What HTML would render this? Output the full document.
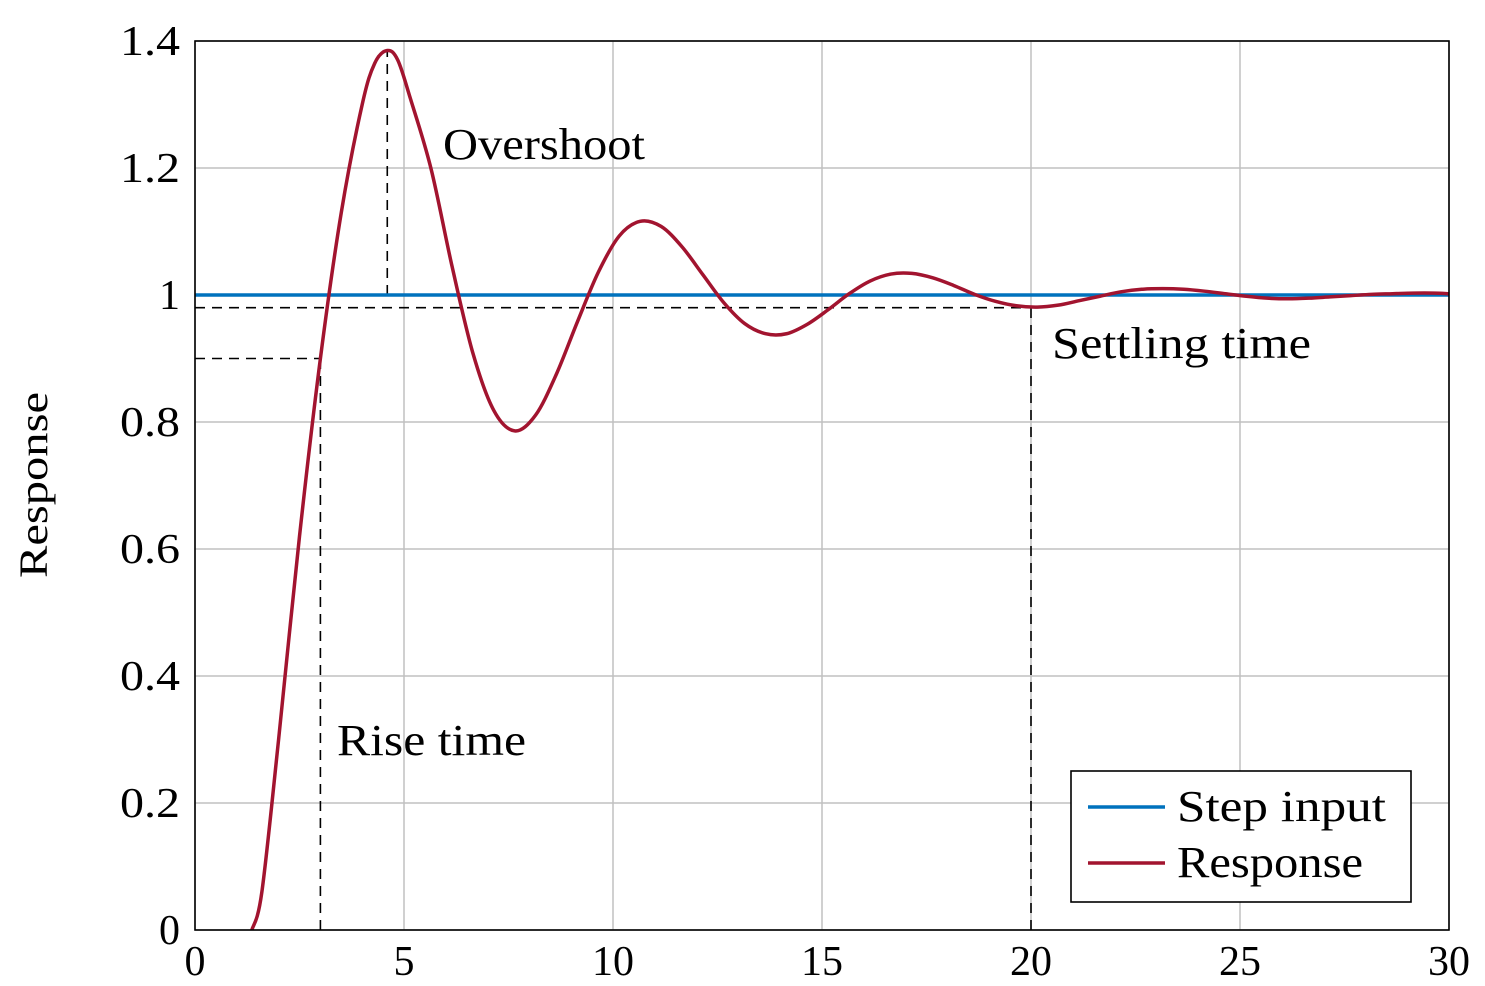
<!DOCTYPE html>
<html><head><meta charset="utf-8"><style>
html,body{margin:0;padding:0;background:#fff;width:1485px;height:986px;overflow:hidden}
svg text{font-family:"Liberation Serif",serif;fill:#000}
</style></head><body>
<svg id="chart" width="1485" height="986" xmlns="http://www.w3.org/2000/svg">
<defs><clipPath id="plotclip"><rect x="195" y="41" width="1254" height="889"/></clipPath></defs>
<g id="grid"></g>
<g id="annot"></g>
<g id="series" clip-path="url(#plotclip)"></g>
<rect x="195" y="41" width="1254" height="889" fill="none" stroke="#000" stroke-width="1.6"/>
<g id="ticks"></g>
<text x="47" y="485" font-size="40" text-anchor="middle" textLength="186" lengthAdjust="spacingAndGlyphs" transform="rotate(-90 47 485)">Response</text>
<g>
<rect x="1071" y="771" width="340" height="131" fill="#fff" stroke="#000" stroke-width="1.6"/>
<g>
<line x1="1088" y1="807" x2="1165" y2="807" stroke="#0072BD" stroke-width="3.5"/>
<text x="1177" y="821" font-size="44" textLength="209" lengthAdjust="spacingAndGlyphs">Step input</text></g>
<g>
<line x1="1088" y1="863" x2="1165" y2="863" stroke="#A2142F" stroke-width="3.5"/>
<text x="1177" y="877" font-size="44" textLength="186" lengthAdjust="spacingAndGlyphs">Response</text></g>
</g>
</svg>
<script>
const xTicks=[0,5,10,15,20,25,30];
const yTicks=[0,0.2,0.4,0.6,0.8,1,1.2,1.4];
const yTickLabels=["0","0.2","0.4","0.6","0.8","1","1.2","1.4"];
const stepT=[0,30];
const stepY=[1,1];
const respT=[1.36,1.6,2.0,2.5,3.0,3.5,4.0,4.3,4.6,4.85,5.15,5.65,6.15,6.65,7.15,7.65,8.15,8.65,9.15,9.65,10.15,10.65,11.15,11.65,12.15,12.65,13.15,13.65,14.15,14.65,15.15,15.65,16.15,16.65,17.15,17.65,18.15,18.65,19.15,19.65,20.15,20.65,21.15,21.65,22.15,22.65,23.15,23.65,24.15,24.65,25.15,25.65,26.15,26.65,27.15,27.65,28.15,28.65,29.15,29.65,30.0];
const respY=[0,0.06,0.3,0.62,0.9,1.13,1.30,1.365,1.385,1.37,1.31,1.198,1.045,0.908,0.818,0.786,0.811,0.876,0.958,1.036,1.093,1.116,1.108,1.076,1.032,0.988,0.955,0.939,0.939,0.954,0.977,1.002,1.022,1.033,1.034,1.027,1.015,1.001,0.990,0.983,0.981,0.984,0.991,0.998,1.005,1.009,1.010,1.009,1.006,1.002,0.998,0.995,0.994,0.995,0.997,0.999,1.001,1.002,1.003,1.003,1.002];
const riseTime=3.0, riseLevel=0.9, peakTime=4.6, peakValue=1.385, settleTime=20, settleLevel=0.98;

const NS="http://www.w3.org/2000/svg";
const X0=195,X1=1449,Y0=930,Y1=41;
function xs(t){return X0+(t-0)/(30-0)*(X1-X0);}
function ys(v){return Y0-(v-0)/(1.4-0)*(Y0-Y1);}
function mk(tag,attrs,parent){const e=document.createElementNS(NS,tag);for(const k in attrs)e.setAttribute(k,attrs[k]);parent.appendChild(e);return e;}
const grid=document.getElementById('grid'),ticks=document.getElementById('ticks'),series=document.getElementById('series'),annot=document.getElementById('annot');
xTicks.forEach(t=>{
  const l=mk('line',{x1:xs(t),x2:xs(t),y1:Y1,y2:Y0,stroke:'#c0c0c0','stroke-width':1.5},grid);
  
  
  const tx=mk('text',{x:xs(t),y:975,'font-size':42,'text-anchor':'middle'},ticks);
  tx.textContent=String(t);
  
  
});
yTicks.forEach((v,i)=>{
  const lab=yTickLabels[i];
  const l=mk('line',{x1:X0,x2:X1,y1:ys(v),y2:ys(v),stroke:'#c0c0c0','stroke-width':1.5},grid);
  
  
  const attrs={x:180,y:ys(v)+14,'font-size':42,'text-anchor':'end'};
  if(lab.length===3){attrs.textLength=60;attrs.lengthAdjust='spacingAndGlyphs';}
  const tx=mk('text',attrs,ticks);
  tx.textContent=lab;
  
  
});
function dash(x1,y1,x2,y2,name){
  const l=mk('line',{x1,y1,x2,y2,stroke:'#000','stroke-width':1.6,'stroke-dasharray':'10 7'},annot);
  
  
}
dash(xs(0),ys(riseLevel),xs(riseTime),ys(riseLevel),'rise-level-line');
dash(xs(riseTime),ys(0),xs(riseTime),ys(riseLevel),'rise-time-line');
dash(xs(peakTime),ys(1),xs(peakTime),ys(peakValue),'overshoot-line');
dash(xs(0),ys(settleLevel),xs(settleTime),ys(settleLevel),'settling-level-line');
dash(xs(settleTime),ys(0),xs(settleTime),ys(settleLevel),'settling-time-line');
function lbl(x,y,s,w,name){const t=mk('text',{x,y,'font-size':44,textLength:w,lengthAdjust:'spacingAndGlyphs'},annot);t.textContent=s;
  
  }
lbl(443,159,'Overshoot',202,'overshoot-label');
lbl(1052,358,'Settling time',259,'settling-time-label');
lbl(337,755,'Rise time',189,'rise-time-label');
const s=mk('line',{x1:xs(stepT[0]),y1:ys(stepY[0]),x2:xs(stepT[1]),y2:ys(stepY[1]),stroke:'#0072BD','stroke-width':3.5},series);


const P=respT.map((t,i)=>[xs(t),ys(respY[i])]);
let d='M'+P[0][0]+','+P[0][1];
for(let i=0;i<P.length-1;i++){
  const p0=P[i-1]||P[i],p1=P[i],p2=P[i+1],p3=P[i+2]||P[i+1];
  const c1=[p1[0]+(p2[0]-p0[0])/6,p1[1]+(p2[1]-p0[1])/6];
  const c2=[p2[0]-(p3[0]-p1[0])/6,p2[1]-(p3[1]-p1[1])/6];
  d+=' C'+c1[0]+','+c1[1]+' '+c2[0]+','+c2[1]+' '+p2[0]+','+p2[1];
}
const r=mk('path',{d,fill:'none',stroke:'#A2142F','stroke-width':3.5},series);


</script>
</body></html>
